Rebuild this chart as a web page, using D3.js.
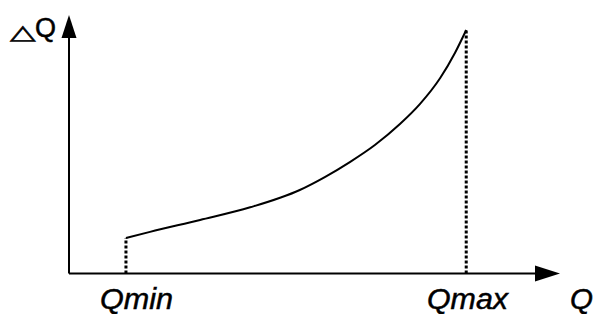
<!DOCTYPE html>
<html>
<head>
<meta charset="utf-8">
<script src="https://cdn.jsdelivr.net/npm/d3@7"></script>
<style>
  body { margin: 0; background: #fff; }
  text { font-family: Arial, "Liberation Sans", sans-serif; fill: #000; stroke: #000; stroke-width: 0.5; }
</style>
</head>
<body>
<script>
// Curve samples (Q, deltaQ) in arbitrary units
const qValues = [11.6, 16.5, 26.7, 36.9, 47.0, 52.1, 57.2, 62.3, 67.4, 71.5, 75.6, 78.6, 80.9];
const dqValues = [13.7, 16.1, 20.7, 25.6, 32.3, 37.3, 43.1, 49.7, 57.8, 65.6, 75.6, 85.3, 94.2];
const markers = [
  { label: "Qmin", q: 11.6, dq: 13.7 },
  { label: "Qmax", q: 80.9, dq: 94.2 }
];

const width = 594, height = 314;
const origin = { x: 69, y: 273.5 };

const x = d3.scaleLinear().domain([0, 100]).range([origin.x, 560]);
const y = d3.scaleLinear().domain([0, 100]).range([origin.y, 15]);

const svg = d3.select("body").append("svg")
  .attr("width", width)
  .attr("height", height);

// Axes lines
svg.append("line")
  .attr("x1", x(0)).attr("y1", y(0))
  .attr("x2", x(96)).attr("y2", y(0))
  .attr("stroke", "#000").attr("stroke-width", 2);

svg.append("line")
  .attr("x1", x(0)).attr("y1", y(0))
  .attr("x2", x(0)).attr("y2", y(92))
  .attr("stroke", "#000").attr("stroke-width", 2);

// Arrow heads
svg.append("path")
  .attr("d", `M${x(100)},${y(0)} L${x(100) - 25},${y(0) - 8} L${x(100) - 25},${y(0) + 8} Z`)
  .attr("fill", "#000");

svg.append("path")
  .attr("d", `M${x(0)},${y(100)} L${x(0) - 7.5},${y(100) + 23} L${x(0) + 7.5},${y(100) + 23} Z`)
  .attr("fill", "#000");

// Dotted drop lines
svg.selectAll(".drop")
  .data(markers)
  .enter()
  .append("line")
  .attr("class", "drop")
  .attr("x1", d => x(d.q)).attr("x2", d => x(d.q))
  .attr("y1", y(0)).attr("y2", d => y(d.dq))
  .attr("stroke", "#000")
  .attr("stroke-width", 3)
  .attr("stroke-dasharray", "3,2");

// Curve
const line = d3.line()
  .x((d, i) => x(qValues[i]))
  .y(d => y(d))
  .curve(d3.curveMonotoneX);

svg.append("path")
  .datum(dqValues)
  .attr("d", line)
  .attr("fill", "none")
  .attr("stroke", "#000")
  .attr("stroke-width", 2);

// Labels
svg.append("text")
  .attr("x", 100).attr("y", 309)
  .attr("font-size", 30).attr("font-style", "italic")
  .attr("textLength", 73).attr("lengthAdjust", "spacingAndGlyphs")
  .text("Qmin");

svg.append("text")
  .attr("x", 427).attr("y", 309)
  .attr("font-size", 30).attr("font-style", "italic")
  .attr("textLength", 81).attr("lengthAdjust", "spacingAndGlyphs")
  .text("Qmax");

svg.append("text")
  .attr("x", 570).attr("y", 309)
  .attr("font-size", 30).attr("font-style", "italic")
  .attr("textLength", 23).attr("lengthAdjust", "spacingAndGlyphs")
  .text("Q");

// Delta Q label on the vertical axis
svg.append("text")
  .attr("transform", "translate(10,39) scale(1,0.6)")
  .attr("font-size", 34)
  .attr("font-family", "DejaVu Sans")
  .style("stroke-width", 0.8)
  .text("△");

svg.append("text")
  .attr("x", 35).attr("y", 37)
  .attr("font-size", 27)
  .text("Q");
</script>
</body>
</html>
